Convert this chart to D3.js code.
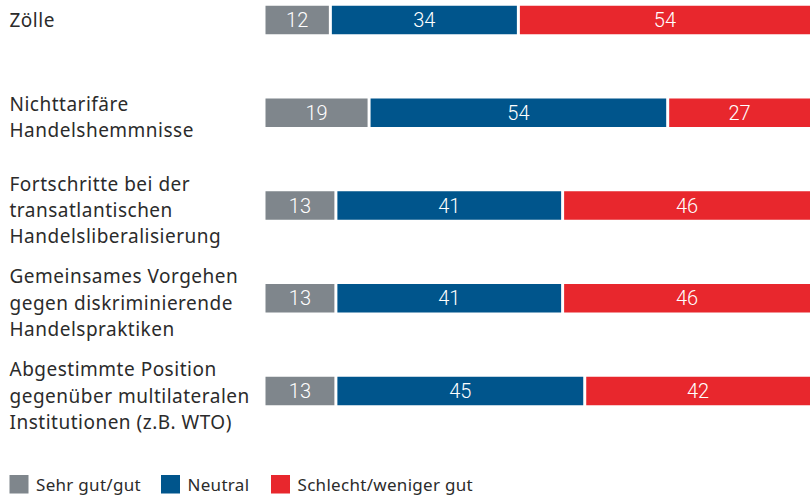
<!DOCTYPE html>
<html><head><meta charset="utf-8">
<script src="https://cdn.jsdelivr.net/npm/d3@7"></script>
<style>body{margin:0;background:#fff}svg{display:block}</style>
</head><body>
<script>
const categories = [
  ["Zölle"],
  ["Nichttarifäre", "Handelshemmnisse"],
  ["Fortschritte bei der", "transatlantischen", "Handelsliberalisierung"],
  ["Gemeinsames Vorgehen", "gegen diskriminierende", "Handelspraktiken"],
  ["Abgestimmte Position", "gegenüber multilateralen", "Institutionen (z.B. WTO)"]
];
const seriesNames = ["Sehr gut/gut", "Neutral", "Schlecht/weniger gut"];
const good = [12, 19, 13, 13, 13];
const neutral = [34, 54, 41, 41, 45];
const bad = [54, 27, 46, 46, 42];
const colors = ["#7f868c", "#00558c", "#e8272d"];

const W = 810, H = 496;
const svg = d3.select("body").append("svg").attr("width", W).attr("height", H);
const x = d3.scaleLinear().domain([0, 100]).range([264, 817]);
const y = d3.scalePoint().domain(d3.range(categories.length)).range([20, 391]);
const bh = 28.5;

const g = svg.append("g");
categories.forEach((lines, i) => {
  const vals = [good[i], neutral[i], bad[i]];
  const cy = y(i);
  let acc = 0;
  vals.forEach((v, k) => {
    const x0 = x(acc) + 1.5, x1 = Math.min(x(acc + v) - 1.5, W);
    acc += v;
    g.append("rect").attr("x", x0).attr("y", cy - bh / 2)
      .attr("width", x1 - x0).attr("height", bh).attr("fill", colors[k]);
    g.append("text").attr("x", (x0 + x1) / 2).attr("y", cy + 7)
      .attr("text-anchor", "middle")
      .attr("fill", "#fff").attr("font-family", "Roboto, sans-serif").attr("font-weight", 300).attr("font-size", 20)
      .text(v);
  });
  const lh = 26.3;
  const n = lines.length;
  const t = g.append("text").attr("font-family", "'Noto Sans', sans-serif").attr("font-size", 19)
    .attr("letter-spacing", 0.5).attr("fill", "#2b2b2b");
  lines.forEach((l, j) => {
    t.append("tspan").attr("x", 9.5).attr("y", cy + 7 + (n > 1 ? 4.5 : 0) + (j - (n - 1) / 2) * lh).text(l);
  });
});

const legX = [9.5, 161, 271];
const leg = svg.append("g");
seriesNames.forEach((s, k) => {
  leg.append("rect").attr("x", legX[k]).attr("y", 475).attr("width", 19).attr("height", 18.5).attr("fill", colors[k]);
  leg.append("text").attr("x", legX[k] + 26.5).attr("y", 490.5)
    .attr("font-family", "'Noto Sans', sans-serif").attr("font-size", 17).attr("letter-spacing", 0.3)
    .attr("fill", "#2b2b2b").text(s);
});
</script>
</body></html>
